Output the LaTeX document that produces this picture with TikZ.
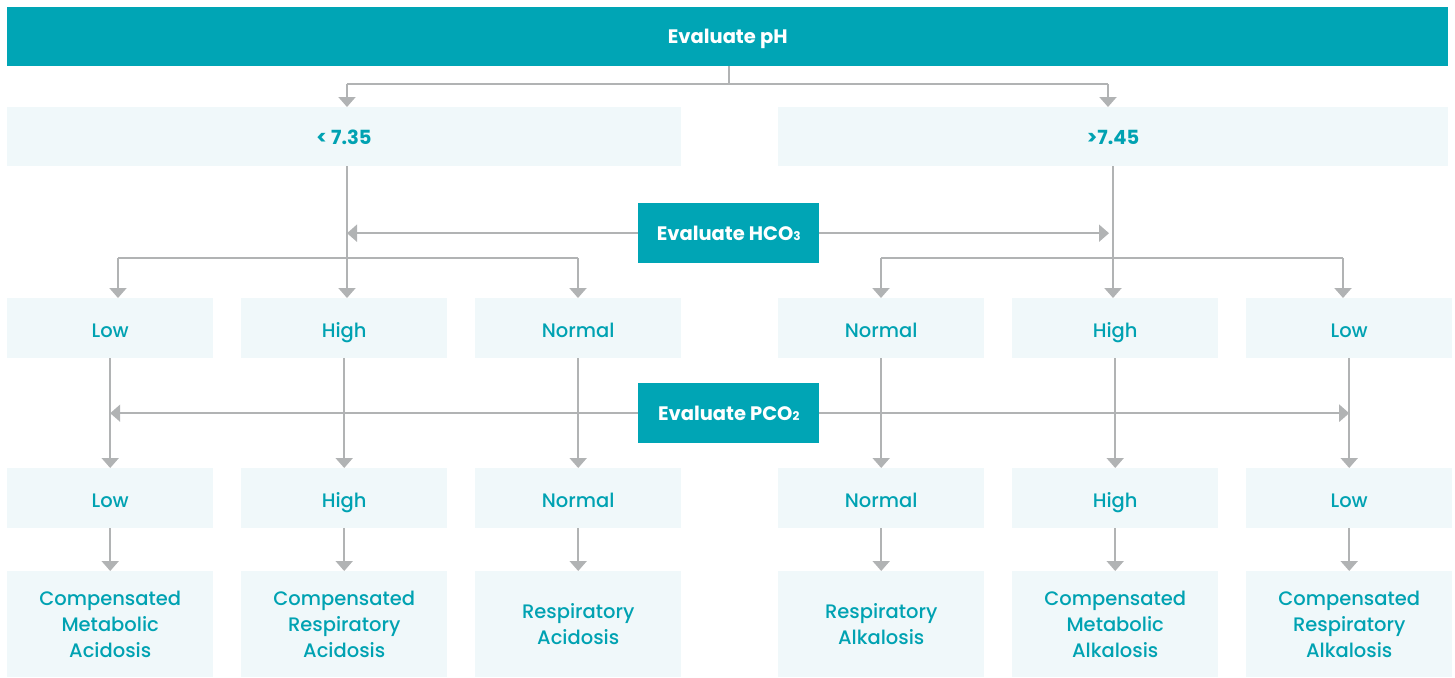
\documentclass[tikz,border=0pt]{standalone}
\usepackage{fontspec}
\setmainfont{Poppins}[UprightFont=* Medium, BoldFont=* Bold]
\usetikzlibrary{arrows.meta}
\definecolor{teal}{HTML}{00A5B5}
\definecolor{tealtxt}{HTML}{00A2B2}
\definecolor{pale}{HTML}{F0F8FA}
\definecolor{lgray}{HTML}{B1B3B4}
\tikzset{
  hdr/.style={fill=teal,text=white,font=\fontsize{19.5}{22}\selectfont\bfseries,inner sep=0pt,anchor=north west,text height=14.5pt,text depth=0pt},
  cell/.style={fill=pale,text=tealtxt,font=\fontsize{19.5}{26}\selectfont,inner sep=0pt,anchor=north west,align=center,minimum width=206pt,minimum height=60pt},
  one/.style={cell,text height=18pt,text depth=0pt},
  tall/.style={cell,minimum height=106pt,text depth=-8pt},
  ln/.style={draw=lgray,line width=2pt},
  arr/.style={ln,-{Triangle[width=17pt,length=10pt]}},
}
\newcommand{\sbs}[1]{{\fontsize{12}{12}\selectfont #1}}
\begin{document}
\begin{tikzpicture}[x=1pt,y=-1pt]
\useasboundingbox (0,0) rectangle (1455,677);
% header
\node[hdr,minimum width=1441pt,minimum height=59pt] (top) at (7,7) {Evaluate pH};
% row 1
\node[cell,minimum width=674pt,minimum height=59pt] (lt) at (7,107) {};
\node[text=tealtxt,font=\fontsize{19.5}{22}\selectfont\bfseries,inner sep=0pt,text height=15pt,text depth=0pt] (ltt) at (344,137) {< 7.35};
\node[cell,minimum width=670pt,minimum height=59pt] (rt) at (778,107) {};
\node[text=tealtxt,font=\fontsize{19.5}{22}\selectfont\bfseries,inner sep=0pt,text height=15pt,text depth=0pt] (rtt) at (1113,137) {>7.45};
% evaluate boxes
\node[hdr,minimum width=181pt,minimum height=60pt] (hco) at (638,203) {Evaluate HCO\sbs{3}};
\node[hdr,minimum width=181pt,minimum height=60pt] (pco) at (638,383) {Evaluate PCO\sbs{2}};
% row 2
\node[one] (a1) at (7,298) {Low};
\node[one] (a2) at (241,298) {High};
\node[one] (a3) at (475,298) {Normal};
\node[one] (a4) at (778,298) {Normal};
\node[one] (a5) at (1012,298) {High};
\node[one] (a6) at (1246,298) {Low};
% row 3
\node[one] (b1) at (7,468) {Low};
\node[one] (b2) at (241,468) {High};
\node[one] (b3) at (475,468) {Normal};
\node[one] (b4) at (778,468) {Normal};
\node[one] (b5) at (1012,468) {High};
\node[one] (b6) at (1246,468) {Low};
% row 4
\node[tall] (c1) at (7,571) {Compensated\\Metabolic\\Acidosis};
\node[tall] (c2) at (241,571) {Compensated\\Respiratory\\Acidosis};
\node[tall] (c3) at (475,571) {Respiratory\\Acidosis};
\node[tall] (c4) at (778,571) {Respiratory\\Alkalosis};
\node[tall] (c5) at (1012,571) {Compensated\\Metabolic\\Alkalosis};
\node[tall] (c6) at (1246,571) {Compensated\\Respiratory\\Alkalosis};
% column coordinates
\coordinate (xl) at (347,0);
\coordinate (xr) at (1113,0);
\coordinate (xra) at (1109,0);
% top split
\draw[ln] (top.south -| 729,0) -- (729,84) coordinate (j1);
\draw[ln] (j1) -- (347,84) coordinate (j2);
\draw[ln] (j1) -- (1108,84) coordinate (j3);
\draw[arr] (j2) -- (j2 |- lt.north);
\draw[arr] (j3) -- (j3 |- rt.north);
% verticals from row 1 to row 2
\draw[arr] (xl |- lt.south) -- (xl |- a2.north);
\draw[arr] (xr |- rt.south) -- (xr |- a5.north);
% HCO3 arrows
\draw[arr] (hco.west) -- (hco.west -| xl);
\draw[arr] (hco.east) -- (hco.east -| xra);
% branches
\draw[ln] (118,258) coordinate (k1) -- (578,258) coordinate (k2);
\draw[arr] (k1) -- (k1 |- a1.north);
\draw[arr] (k2) -- (k2 |- a3.north);
\draw[ln] (881,258) coordinate (k3) -- (1343,258) coordinate (k4);
\draw[arr] (k3) -- (k3 |- a4.north);
\draw[arr] (k4) -- (k4 |- a6.north);
% PCO2 arrows
\draw[arr] (pco.west) -- (pco.west -| a1.south);
\draw[arr] (pco.east) -- (pco.east -| a6.south);
% row 2 -> row 3 -> row 4
\foreach \i in {1,...,6}{
  \draw[arr] (a\i.south) -- (b\i.north);
  \draw[arr] (b\i.south) -- (c\i.north);
}
\end{tikzpicture}
\end{document}
